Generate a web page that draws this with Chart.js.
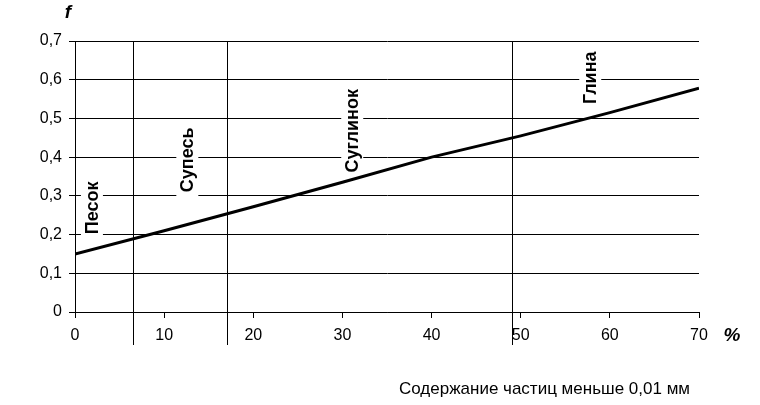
<!DOCTYPE html>
<html>
<head>
<meta charset="utf-8">
<script src="https://cdn.jsdelivr.net/npm/chart.js@4/dist/chart.umd.min.js"></script>
<style>
html, body { margin: 0; padding: 0; background: #fff; }
#wrap { width: 760px; height: 405px; }
</style>
</head>
<body>
<div id="wrap"><canvas id="mycanvas"></canvas></div>
<script>
// содержание частиц < 0,01 мм, % и коэффициент f
var xs = [0, 10, 20, 30, 40, 50, 60, 70];
var fs = [0.15, 0.21, 0.272, 0.335, 0.40, 0.455, 0.515, 0.578];

// границы классов грунта, %
var bounds = [6.5, 17, 49];
// подписи классов: текст, x, f
var soilNames = ['Песок', 'Супесь', 'Суглинок', 'Глина'];
var soilX = [1.9, 12.6, 31.1, 57.8];
var soilF = [0.269, 0.393, 0.468, 0.605];

var xTitle = 'Содержание частиц меньше 0,01 мм';
var FONT = '"Liberation Sans", Arial, sans-serif';

var points = xs.map(function (x, i) { return { x: x, y: fs[i] }; });

var extras = {
  id: 'extras',
  beforeDatasetsDraw: function (chart) {
    var c = chart.ctx, xa = chart.scales.x, ya = chart.scales.y;
    var top = chart.chartArea.top, bottom = chart.chartArea.bottom;
    c.save();
    c.strokeStyle = '#000';
    c.lineWidth = 1;
    bounds.forEach(function (b) {
      var px = Math.round(xa.getPixelForValue(b)) + 0.5;
      c.beginPath();
      c.moveTo(px, top);
      c.lineTo(px, bottom + 33);
      c.stroke();
    });
    c.font = 'bold 18px ' + FONT;
    c.textAlign = 'center';
    c.textBaseline = 'middle';
    soilNames.forEach(function (s, i) {
      var px = xa.getPixelForValue(soilX[i]);
      var py = ya.getPixelForValue(soilF[i]);
      var w = c.measureText(s).width;
      c.save();
      c.translate(px, py);
      c.rotate(-Math.PI / 2);
      c.fillStyle = '#fff';
      c.fillRect(-w / 2 - 6, -11, w + 12, 22);
      c.fillStyle = '#000';
      c.fillText(s, 0, 1);
      c.restore();
    });
    c.restore();
  },
  afterDraw: function (chart) {
    var c = chart.ctx, area = chart.chartArea;
    c.save();
    c.fillStyle = '#000';
    c.font = 'italic bold 19px ' + FONT;
    c.textBaseline = 'middle';
    c.textAlign = 'center';
    c.fillText('f', area.left - 7, 13);
    c.fillText('%', area.right + 33, 336);
    c.font = '17px ' + FONT;
    c.textAlign = 'right';
    c.fillText(xTitle, area.right - 9, 389);
    c.restore();
  }
};

var ctx = document.querySelector('#mycanvas');

var graph = new Chart(ctx, {
  type: 'scatter',
  data: {
    datasets: [{
      data: points,
      showLine: true,
      borderColor: '#000',
      borderWidth: 3,
      pointRadius: 0,
      pointHoverRadius: 0,
      tension: 0
    }]
  },
  options: {
    responsive: true,
    maintainAspectRatio: false,
    animation: false,
    events: [],
    layout: { padding: { left: 0, right: 61, top: 41, bottom: 0 } },
    plugins: { legend: { display: false }, tooltip: { enabled: false } },
    scales: {
      x: {
        type: 'linear',
        min: 0,
        max: 70,
        afterFit: function (s) { s.height = 93; },
        border: { color: '#000', width: 1 },
        grid: { drawOnChartArea: false, drawTicks: true, tickLength: 6, color: '#000' },
        ticks: {
          stepSize: 10,
          padding: 8,
          color: '#000',
          font: { family: FONT, size: 16 }
        }
      },
      y: {
        min: 0,
        max: 0.7,
        afterFit: function (s) { s.width = 75; },
        border: { color: '#000', width: 1 },
        grid: { color: '#000', lineWidth: 1, drawTicks: true, tickLength: 6 },
        ticks: {
          stepSize: 0.1,
          padding: 7,
          color: '#000',
          font: { family: FONT, size: 16 },
          callback: function (v) {
            return v === 0 ? '0' : v.toFixed(1).replace('.', ',');
          }
        }
      }
    }
  },
  plugins: [extras]
});
</script>
</body>
</html>
